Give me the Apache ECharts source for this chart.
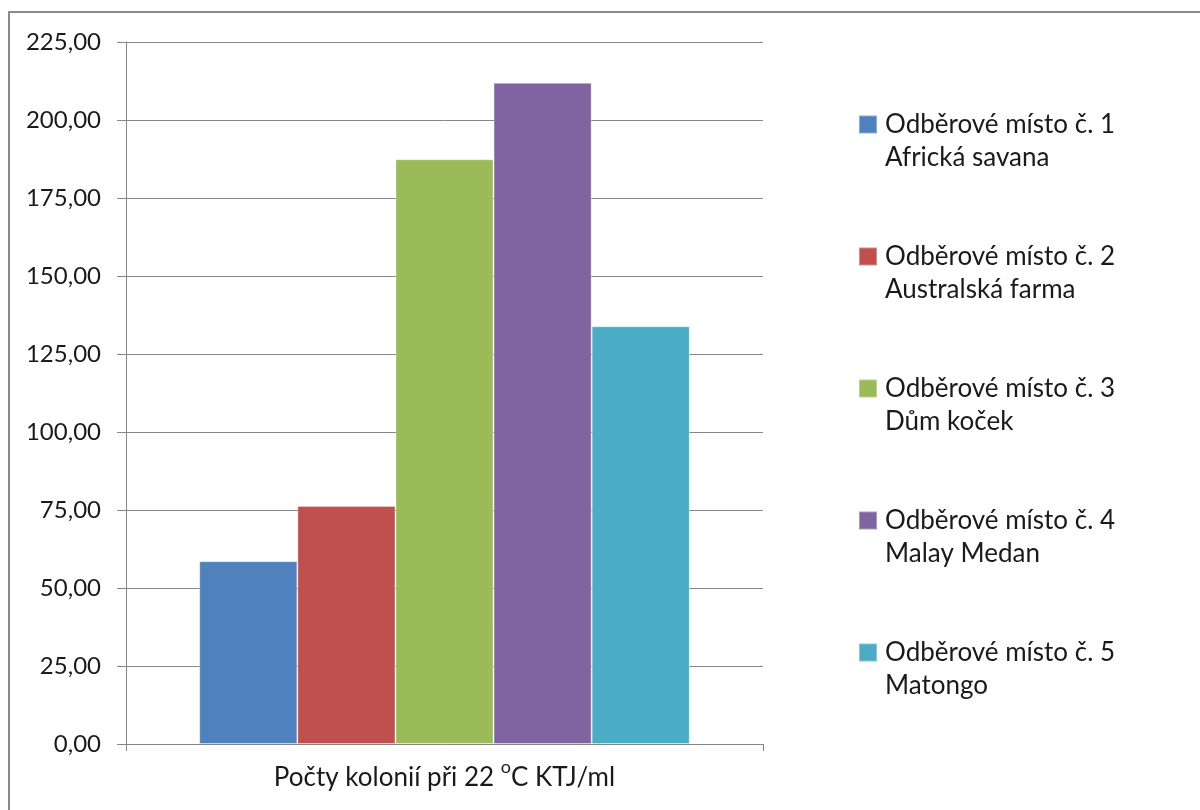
<!DOCTYPE html>
<html>
<head>
<meta charset="utf-8">
<script src="https://cdn.jsdelivr.net/npm/echarts@6/dist/echarts.min.js"></script>
<style>
html,body{margin:0;padding:0;background:#fff;}
#chart{width:1200px;height:810px;}
</style>
</head>
<body>
<div id="chart"></div>
<script>
const categories = ['Počty kolonií při 22 °C KTJ/ml'];
const seriesNames = [
  'Odběrové místo č. 1\nAfrická savana',
  'Odběrové místo č. 2\nAustralská farma',
  'Odběrové místo č. 3\nDům koček',
  'Odběrové místo č. 4\nMalay Medan',
  'Odběrové místo č. 5\nMatongo'
];
const values = [58.6, 76.3, 187.4, 211.9, 133.9];
const colors = ['#4F81BD', '#C0504D', '#9BBB59', '#8064A2', '#4BACC6'];
const yTicks = { min: 0, max: 225, interval: 25 };

const FONT = 'Lato';
const chart = echarts.init(document.getElementById('chart'), null, { renderer: 'canvas' });

const series = seriesNames.map((name, i) => ({
  name: name,
  type: 'bar',
  data: [values[i]],
  barGap: '0%',
  barCategoryGap: '23%',
  itemStyle: { color: colors[i], borderColor: 'rgba(255,255,255,0.35)', borderWidth: 1 },
  emphasis: { disabled: true }
}));

chart.setOption({
  animation: false,
  backgroundColor: '#ffffff',
  color: colors,
  graphic: [{
    type: 'rect',
    shape: { x: 9, y: 12, width: 1300, height: 900 },
    style: { fill: 'none', stroke: '#8a8a8a', lineWidth: 2 },
    silent: true
  }],
  grid: { left: 126, right: 437, top: 42, bottom: 66 },
  legend: {
    orient: 'vertical',
    left: 858,
    top: 75,
    padding: 0,
    itemWidth: 18,
    itemHeight: 18,
    itemGap: 33,
    icon: 'rect',
    selectedMode: false,
    formatter: function (name) { return '\n' + name; },
    textStyle: { fontFamily: FONT, fontSize: 26, color: '#1a1a1a', lineHeight: 33, padding: [0, 0, 0, 3] },
    data: seriesNames
  },
  xAxis: {
    type: 'category',
    data: categories,
    boundaryGap: true,
    axisLine: { lineStyle: { color: '#868686', width: 1 } },
    axisTick: { show: true, length: 7, alignWithLabel: false, lineStyle: { color: '#868686' } },
    axisLabel: {
      margin: 14,
      fontFamily: FONT,
      fontSize: 26,
      color: '#1a1a1a',
      formatter: function (v) {
        const parts = v.split('°');
        return '{n|' + parts[0] + '}{sup|o}{n|' + parts[1] + '}';
      },
      rich: {
        n: { fontFamily: FONT, fontSize: 26, color: '#1a1a1a', lineHeight: 40 },
        sup: { fontFamily: FONT, fontSize: 18, color: '#1a1a1a', lineHeight: 18, verticalAlign: 'top' }
      }
    }
  },
  yAxis: {
    type: 'value',
    min: yTicks.min,
    max: yTicks.max,
    interval: yTicks.interval,
    axisLine: { show: true, lineStyle: { color: '#868686', width: 1 } },
    axisTick: { show: true, length: 9, lineStyle: { color: '#868686' } },
    splitLine: { show: true, lineStyle: { color: '#868686', width: 1 } },
    axisLabel: {
      margin: 25,
      fontFamily: FONT,
      fontSize: 24,
      color: '#1a1a1a',
      formatter: function (v) { return v.toFixed(2).replace('.', ','); }
    }
  },
  series: series
});
</script>
</body>
</html>
